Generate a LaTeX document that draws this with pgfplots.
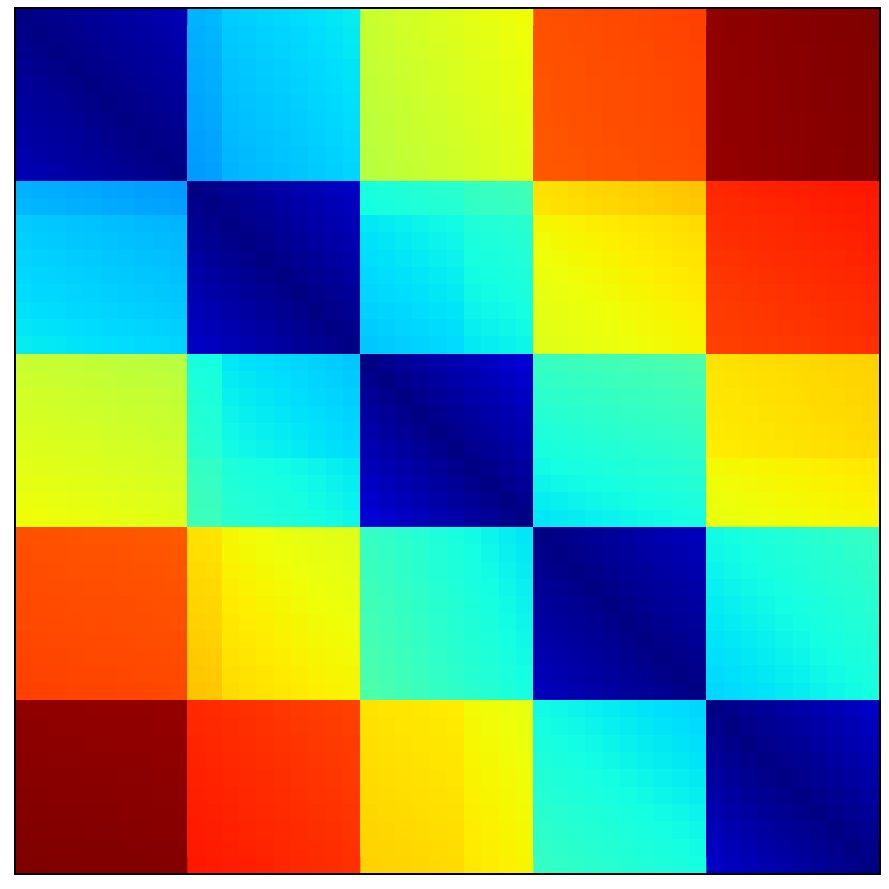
\documentclass[border=0pt]{standalone}
\usepackage{pgfplots}
\usepackage{pgfplotstable}
\pgfplotsset{compat=1.18}
\pgfplotsset{colormap={mpljet}{rgb(0pt)=(0,0,0.5); rgb(110pt)=(0,0,1); rgb(125pt)=(0,0,1); rgb(340pt)=(0,0.86,1); rgb(350pt)=(0,0.9,0.9677); rgb(375pt)=(0.0806,1,0.8871); rgb(640pt)=(0.9355,1,0.0323); rgb(650pt)=(0.9677,0.963,0); rgb(660pt)=(1,0.9259,0); rgb(890pt)=(1,0.0741,0); rgb(910pt)=(0.9091,0,0); rgb(1000pt)=(0.5,0,0)}}
% 50 x 50 distance matrix (values x 1000), one value per table row, row by row
\pgfplotstableread[row sep=\\]{
c\\
3\\ 7\\ 12\\ 16\\ 21\\ 25\\ 29\\ 34\\ 38\\ 43\\ 300\\ 305\\ 325\\ 329\\ 333\\ 337\\ 341\\ 346\\ 351\\ 357\\ 593\\ 598\\ 604\\ 609\\ 614\\ 620\\ 625\\ 630\\ 636\\ 641\\ 825\\ 827\\ 829\\ 831\\ 833\\ 834\\ 836\\ 838\\ 840\\ 842\\ 986\\ 988\\ 989\\ 991\\ 993\\ 994\\ 996\\ 997\\ 999\\ 1000\\
7\\ 3\\ 7\\ 12\\ 16\\ 21\\ 25\\ 29\\ 34\\ 38\\ 297\\ 302\\ 322\\ 326\\ 330\\ 334\\ 338\\ 343\\ 348\\ 354\\ 591\\ 596\\ 602\\ 607\\ 612\\ 618\\ 623\\ 628\\ 634\\ 639\\ 824\\ 826\\ 828\\ 830\\ 832\\ 833\\ 835\\ 837\\ 839\\ 841\\ 986\\ 988\\ 989\\ 991\\ 993\\ 994\\ 996\\ 997\\ 999\\ 1000\\
12\\ 7\\ 3\\ 7\\ 12\\ 16\\ 21\\ 25\\ 29\\ 34\\ 295\\ 300\\ 320\\ 324\\ 328\\ 332\\ 336\\ 341\\ 346\\ 352\\ 589\\ 594\\ 600\\ 605\\ 610\\ 616\\ 621\\ 626\\ 632\\ 637\\ 823\\ 825\\ 827\\ 829\\ 831\\ 832\\ 834\\ 836\\ 838\\ 840\\ 985\\ 987\\ 988\\ 990\\ 992\\ 993\\ 995\\ 996\\ 998\\ 999\\
16\\ 12\\ 7\\ 3\\ 7\\ 12\\ 16\\ 21\\ 25\\ 29\\ 292\\ 297\\ 317\\ 321\\ 325\\ 329\\ 333\\ 338\\ 343\\ 349\\ 587\\ 592\\ 598\\ 603\\ 608\\ 614\\ 619\\ 624\\ 630\\ 635\\ 822\\ 824\\ 826\\ 828\\ 830\\ 831\\ 833\\ 835\\ 837\\ 839\\ 985\\ 987\\ 988\\ 990\\ 992\\ 993\\ 995\\ 996\\ 998\\ 999\\
21\\ 16\\ 12\\ 7\\ 3\\ 7\\ 12\\ 16\\ 21\\ 25\\ 290\\ 295\\ 315\\ 319\\ 323\\ 327\\ 331\\ 336\\ 341\\ 347\\ 585\\ 590\\ 596\\ 601\\ 606\\ 612\\ 617\\ 622\\ 628\\ 633\\ 821\\ 823\\ 825\\ 827\\ 829\\ 830\\ 832\\ 834\\ 836\\ 838\\ 984\\ 986\\ 987\\ 989\\ 991\\ 992\\ 994\\ 995\\ 997\\ 998\\
25\\ 21\\ 16\\ 12\\ 7\\ 3\\ 7\\ 12\\ 16\\ 21\\ 287\\ 292\\ 312\\ 316\\ 320\\ 324\\ 328\\ 333\\ 338\\ 344\\ 582\\ 587\\ 593\\ 598\\ 603\\ 609\\ 614\\ 619\\ 625\\ 630\\ 821\\ 823\\ 825\\ 827\\ 829\\ 830\\ 832\\ 834\\ 836\\ 838\\ 984\\ 986\\ 987\\ 989\\ 991\\ 992\\ 994\\ 995\\ 997\\ 998\\
29\\ 25\\ 21\\ 16\\ 12\\ 7\\ 3\\ 7\\ 12\\ 16\\ 285\\ 290\\ 310\\ 314\\ 318\\ 322\\ 326\\ 331\\ 336\\ 342\\ 580\\ 585\\ 591\\ 596\\ 601\\ 607\\ 612\\ 617\\ 623\\ 628\\ 820\\ 822\\ 824\\ 826\\ 828\\ 829\\ 831\\ 833\\ 835\\ 837\\ 983\\ 985\\ 986\\ 988\\ 990\\ 991\\ 993\\ 994\\ 996\\ 997\\
34\\ 29\\ 25\\ 21\\ 16\\ 12\\ 7\\ 3\\ 7\\ 12\\ 282\\ 287\\ 307\\ 311\\ 315\\ 319\\ 323\\ 328\\ 333\\ 339\\ 578\\ 583\\ 589\\ 594\\ 599\\ 605\\ 610\\ 615\\ 621\\ 626\\ 819\\ 821\\ 823\\ 825\\ 827\\ 828\\ 830\\ 832\\ 834\\ 836\\ 983\\ 985\\ 986\\ 988\\ 990\\ 991\\ 993\\ 994\\ 996\\ 997\\
38\\ 34\\ 29\\ 25\\ 21\\ 16\\ 12\\ 7\\ 3\\ 7\\ 280\\ 285\\ 305\\ 309\\ 313\\ 317\\ 321\\ 326\\ 331\\ 337\\ 576\\ 581\\ 587\\ 592\\ 597\\ 603\\ 608\\ 613\\ 619\\ 624\\ 818\\ 820\\ 822\\ 824\\ 826\\ 827\\ 829\\ 831\\ 833\\ 835\\ 982\\ 984\\ 985\\ 987\\ 989\\ 990\\ 992\\ 993\\ 995\\ 996\\
43\\ 38\\ 34\\ 29\\ 25\\ 21\\ 16\\ 12\\ 7\\ 3\\ 277\\ 282\\ 302\\ 306\\ 310\\ 314\\ 318\\ 323\\ 328\\ 334\\ 574\\ 579\\ 585\\ 590\\ 595\\ 601\\ 606\\ 611\\ 617\\ 622\\ 817\\ 819\\ 821\\ 823\\ 825\\ 826\\ 828\\ 830\\ 832\\ 834\\ 982\\ 984\\ 985\\ 987\\ 989\\ 990\\ 992\\ 993\\ 995\\ 996\\
300\\ 297\\ 295\\ 292\\ 290\\ 287\\ 285\\ 282\\ 280\\ 277\\ 3\\ 9\\ 15\\ 22\\ 28\\ 34\\ 40\\ 46\\ 53\\ 59\\ 379\\ 383\\ 387\\ 391\\ 395\\ 399\\ 413\\ 417\\ 421\\ 425\\ 672\\ 675\\ 679\\ 682\\ 685\\ 689\\ 692\\ 695\\ 699\\ 702\\ 868\\ 870\\ 872\\ 874\\ 876\\ 878\\ 880\\ 882\\ 884\\ 886\\
305\\ 302\\ 300\\ 297\\ 295\\ 292\\ 290\\ 287\\ 285\\ 282\\ 9\\ 3\\ 9\\ 15\\ 22\\ 28\\ 34\\ 40\\ 46\\ 53\\ 376\\ 380\\ 384\\ 388\\ 392\\ 396\\ 410\\ 414\\ 418\\ 422\\ 669\\ 672\\ 676\\ 679\\ 682\\ 686\\ 689\\ 692\\ 696\\ 699\\ 865\\ 867\\ 869\\ 871\\ 873\\ 875\\ 877\\ 879\\ 881\\ 883\\
325\\ 322\\ 320\\ 317\\ 315\\ 312\\ 310\\ 307\\ 305\\ 302\\ 15\\ 9\\ 3\\ 9\\ 15\\ 22\\ 28\\ 34\\ 40\\ 46\\ 352\\ 356\\ 360\\ 364\\ 368\\ 372\\ 386\\ 390\\ 394\\ 398\\ 648\\ 651\\ 655\\ 658\\ 661\\ 665\\ 668\\ 671\\ 675\\ 678\\ 862\\ 864\\ 866\\ 868\\ 870\\ 872\\ 874\\ 876\\ 878\\ 880\\
329\\ 326\\ 324\\ 321\\ 319\\ 316\\ 314\\ 311\\ 309\\ 306\\ 22\\ 15\\ 9\\ 3\\ 9\\ 15\\ 22\\ 28\\ 34\\ 40\\ 347\\ 351\\ 355\\ 359\\ 363\\ 367\\ 381\\ 385\\ 389\\ 393\\ 643\\ 646\\ 650\\ 653\\ 656\\ 660\\ 663\\ 666\\ 670\\ 673\\ 859\\ 861\\ 863\\ 865\\ 867\\ 869\\ 871\\ 873\\ 875\\ 877\\
333\\ 330\\ 328\\ 325\\ 323\\ 320\\ 318\\ 315\\ 313\\ 310\\ 28\\ 22\\ 15\\ 9\\ 3\\ 9\\ 15\\ 22\\ 28\\ 34\\ 343\\ 347\\ 351\\ 355\\ 359\\ 363\\ 377\\ 381\\ 385\\ 389\\ 639\\ 642\\ 646\\ 649\\ 652\\ 656\\ 659\\ 662\\ 666\\ 669\\ 856\\ 858\\ 860\\ 862\\ 864\\ 866\\ 868\\ 870\\ 872\\ 874\\
337\\ 334\\ 332\\ 329\\ 327\\ 324\\ 322\\ 319\\ 317\\ 314\\ 34\\ 28\\ 22\\ 15\\ 9\\ 3\\ 9\\ 15\\ 22\\ 28\\ 339\\ 343\\ 347\\ 351\\ 355\\ 359\\ 373\\ 377\\ 381\\ 385\\ 635\\ 638\\ 642\\ 645\\ 648\\ 652\\ 655\\ 658\\ 662\\ 665\\ 853\\ 855\\ 857\\ 859\\ 861\\ 863\\ 865\\ 867\\ 869\\ 871\\
341\\ 338\\ 336\\ 333\\ 331\\ 328\\ 326\\ 323\\ 321\\ 318\\ 40\\ 34\\ 28\\ 22\\ 15\\ 9\\ 3\\ 9\\ 15\\ 22\\ 335\\ 339\\ 343\\ 347\\ 351\\ 355\\ 369\\ 373\\ 377\\ 381\\ 631\\ 634\\ 638\\ 641\\ 644\\ 648\\ 651\\ 654\\ 658\\ 661\\ 850\\ 852\\ 854\\ 856\\ 858\\ 860\\ 862\\ 864\\ 866\\ 868\\
346\\ 343\\ 341\\ 338\\ 336\\ 333\\ 331\\ 328\\ 326\\ 323\\ 46\\ 40\\ 34\\ 28\\ 22\\ 15\\ 9\\ 3\\ 9\\ 15\\ 330\\ 334\\ 338\\ 342\\ 346\\ 350\\ 364\\ 368\\ 372\\ 376\\ 627\\ 630\\ 634\\ 637\\ 640\\ 644\\ 647\\ 650\\ 654\\ 657\\ 847\\ 849\\ 851\\ 853\\ 855\\ 857\\ 859\\ 861\\ 863\\ 865\\
351\\ 348\\ 346\\ 343\\ 341\\ 338\\ 336\\ 333\\ 331\\ 328\\ 53\\ 46\\ 40\\ 34\\ 28\\ 22\\ 15\\ 9\\ 3\\ 9\\ 325\\ 329\\ 333\\ 337\\ 341\\ 345\\ 359\\ 363\\ 367\\ 371\\ 624\\ 627\\ 631\\ 634\\ 637\\ 641\\ 644\\ 647\\ 651\\ 654\\ 845\\ 847\\ 849\\ 851\\ 853\\ 855\\ 857\\ 859\\ 861\\ 863\\
357\\ 354\\ 352\\ 349\\ 347\\ 344\\ 342\\ 339\\ 337\\ 334\\ 59\\ 53\\ 46\\ 40\\ 34\\ 28\\ 22\\ 15\\ 9\\ 3\\ 320\\ 324\\ 328\\ 332\\ 336\\ 340\\ 354\\ 358\\ 362\\ 366\\ 621\\ 624\\ 628\\ 631\\ 634\\ 638\\ 641\\ 644\\ 648\\ 651\\ 842\\ 844\\ 846\\ 848\\ 850\\ 852\\ 854\\ 856\\ 858\\ 860\\
593\\ 591\\ 589\\ 587\\ 585\\ 582\\ 580\\ 578\\ 576\\ 574\\ 379\\ 376\\ 352\\ 347\\ 343\\ 339\\ 335\\ 330\\ 325\\ 320\\ 3\\ 11\\ 19\\ 27\\ 35\\ 43\\ 50\\ 58\\ 66\\ 74\\ 415\\ 418\\ 421\\ 424\\ 427\\ 430\\ 433\\ 436\\ 439\\ 442\\ 670\\ 672\\ 674\\ 676\\ 678\\ 680\\ 682\\ 684\\ 686\\ 688\\
598\\ 596\\ 594\\ 592\\ 590\\ 587\\ 585\\ 583\\ 581\\ 579\\ 383\\ 380\\ 356\\ 351\\ 347\\ 343\\ 339\\ 334\\ 329\\ 324\\ 11\\ 3\\ 11\\ 19\\ 27\\ 35\\ 43\\ 50\\ 58\\ 66\\ 408\\ 411\\ 414\\ 417\\ 420\\ 423\\ 426\\ 429\\ 432\\ 435\\ 668\\ 670\\ 672\\ 674\\ 676\\ 678\\ 680\\ 682\\ 684\\ 686\\
604\\ 602\\ 600\\ 598\\ 596\\ 593\\ 591\\ 589\\ 587\\ 585\\ 387\\ 384\\ 360\\ 355\\ 351\\ 347\\ 343\\ 338\\ 333\\ 328\\ 19\\ 11\\ 3\\ 11\\ 19\\ 27\\ 35\\ 43\\ 50\\ 58\\ 401\\ 404\\ 407\\ 410\\ 413\\ 416\\ 419\\ 422\\ 425\\ 428\\ 666\\ 668\\ 670\\ 672\\ 674\\ 676\\ 678\\ 680\\ 682\\ 684\\
609\\ 607\\ 605\\ 603\\ 601\\ 598\\ 596\\ 594\\ 592\\ 590\\ 391\\ 388\\ 364\\ 359\\ 355\\ 351\\ 347\\ 342\\ 337\\ 332\\ 27\\ 19\\ 11\\ 3\\ 11\\ 19\\ 27\\ 35\\ 43\\ 50\\ 394\\ 397\\ 400\\ 403\\ 406\\ 409\\ 412\\ 415\\ 418\\ 421\\ 664\\ 666\\ 668\\ 670\\ 672\\ 674\\ 676\\ 678\\ 680\\ 682\\
614\\ 612\\ 610\\ 608\\ 606\\ 603\\ 601\\ 599\\ 597\\ 595\\ 395\\ 392\\ 368\\ 363\\ 359\\ 355\\ 351\\ 346\\ 341\\ 336\\ 35\\ 27\\ 19\\ 11\\ 3\\ 11\\ 19\\ 27\\ 35\\ 43\\ 386\\ 389\\ 392\\ 395\\ 398\\ 401\\ 404\\ 407\\ 410\\ 413\\ 662\\ 664\\ 666\\ 668\\ 670\\ 672\\ 674\\ 676\\ 678\\ 680\\
620\\ 618\\ 616\\ 614\\ 612\\ 609\\ 607\\ 605\\ 603\\ 601\\ 399\\ 396\\ 372\\ 367\\ 363\\ 359\\ 355\\ 350\\ 345\\ 340\\ 43\\ 35\\ 27\\ 19\\ 11\\ 3\\ 11\\ 19\\ 27\\ 35\\ 379\\ 382\\ 385\\ 388\\ 391\\ 394\\ 397\\ 400\\ 403\\ 406\\ 660\\ 662\\ 664\\ 666\\ 668\\ 670\\ 672\\ 674\\ 676\\ 678\\
625\\ 623\\ 621\\ 619\\ 617\\ 614\\ 612\\ 610\\ 608\\ 606\\ 413\\ 410\\ 386\\ 381\\ 377\\ 373\\ 369\\ 364\\ 359\\ 354\\ 50\\ 43\\ 35\\ 27\\ 19\\ 11\\ 3\\ 11\\ 19\\ 27\\ 372\\ 375\\ 378\\ 381\\ 384\\ 387\\ 390\\ 393\\ 396\\ 399\\ 645\\ 647\\ 649\\ 651\\ 653\\ 655\\ 657\\ 659\\ 661\\ 663\\
630\\ 628\\ 626\\ 624\\ 622\\ 619\\ 617\\ 615\\ 613\\ 611\\ 417\\ 414\\ 390\\ 385\\ 381\\ 377\\ 373\\ 368\\ 363\\ 358\\ 58\\ 50\\ 43\\ 35\\ 27\\ 19\\ 11\\ 3\\ 11\\ 19\\ 365\\ 368\\ 371\\ 374\\ 377\\ 380\\ 383\\ 386\\ 389\\ 392\\ 641\\ 643\\ 645\\ 647\\ 649\\ 651\\ 653\\ 655\\ 657\\ 659\\
636\\ 634\\ 632\\ 630\\ 628\\ 625\\ 623\\ 621\\ 619\\ 617\\ 421\\ 418\\ 394\\ 389\\ 385\\ 381\\ 377\\ 372\\ 367\\ 362\\ 66\\ 58\\ 50\\ 43\\ 35\\ 27\\ 19\\ 11\\ 3\\ 11\\ 358\\ 361\\ 364\\ 367\\ 370\\ 373\\ 376\\ 379\\ 382\\ 385\\ 637\\ 639\\ 641\\ 643\\ 645\\ 647\\ 649\\ 651\\ 653\\ 655\\
641\\ 639\\ 637\\ 635\\ 633\\ 630\\ 628\\ 626\\ 624\\ 622\\ 425\\ 422\\ 398\\ 393\\ 389\\ 385\\ 381\\ 376\\ 371\\ 366\\ 74\\ 66\\ 58\\ 50\\ 43\\ 35\\ 27\\ 19\\ 11\\ 3\\ 351\\ 354\\ 357\\ 360\\ 363\\ 366\\ 369\\ 372\\ 375\\ 378\\ 633\\ 635\\ 637\\ 639\\ 641\\ 643\\ 645\\ 647\\ 649\\ 651\\
825\\ 824\\ 823\\ 822\\ 821\\ 821\\ 820\\ 819\\ 818\\ 817\\ 672\\ 669\\ 648\\ 643\\ 639\\ 635\\ 631\\ 627\\ 624\\ 621\\ 415\\ 408\\ 401\\ 394\\ 386\\ 379\\ 372\\ 365\\ 358\\ 351\\ 3\\ 8\\ 14\\ 19\\ 24\\ 30\\ 35\\ 40\\ 45\\ 51\\ 372\\ 376\\ 381\\ 385\\ 390\\ 394\\ 399\\ 403\\ 408\\ 412\\
827\\ 826\\ 825\\ 824\\ 823\\ 823\\ 822\\ 821\\ 820\\ 819\\ 675\\ 672\\ 651\\ 646\\ 642\\ 638\\ 634\\ 630\\ 627\\ 624\\ 418\\ 411\\ 404\\ 397\\ 389\\ 382\\ 375\\ 368\\ 361\\ 354\\ 8\\ 3\\ 8\\ 14\\ 19\\ 24\\ 30\\ 35\\ 40\\ 45\\ 368\\ 372\\ 377\\ 381\\ 386\\ 390\\ 395\\ 399\\ 404\\ 408\\
829\\ 828\\ 827\\ 826\\ 825\\ 825\\ 824\\ 823\\ 822\\ 821\\ 679\\ 676\\ 655\\ 650\\ 646\\ 642\\ 638\\ 634\\ 631\\ 628\\ 421\\ 414\\ 407\\ 400\\ 392\\ 385\\ 378\\ 371\\ 364\\ 357\\ 14\\ 8\\ 3\\ 8\\ 14\\ 19\\ 24\\ 30\\ 35\\ 40\\ 364\\ 368\\ 373\\ 377\\ 382\\ 386\\ 391\\ 395\\ 400\\ 404\\
831\\ 830\\ 829\\ 828\\ 827\\ 827\\ 826\\ 825\\ 824\\ 823\\ 682\\ 679\\ 658\\ 653\\ 649\\ 645\\ 641\\ 637\\ 634\\ 631\\ 424\\ 417\\ 410\\ 403\\ 395\\ 388\\ 381\\ 374\\ 367\\ 360\\ 19\\ 14\\ 8\\ 3\\ 8\\ 14\\ 19\\ 24\\ 30\\ 35\\ 360\\ 364\\ 369\\ 373\\ 378\\ 382\\ 387\\ 391\\ 396\\ 400\\
833\\ 832\\ 831\\ 830\\ 829\\ 829\\ 828\\ 827\\ 826\\ 825\\ 685\\ 682\\ 661\\ 656\\ 652\\ 648\\ 644\\ 640\\ 637\\ 634\\ 427\\ 420\\ 413\\ 406\\ 398\\ 391\\ 384\\ 377\\ 370\\ 363\\ 24\\ 19\\ 14\\ 8\\ 3\\ 8\\ 14\\ 19\\ 24\\ 30\\ 356\\ 360\\ 365\\ 369\\ 374\\ 378\\ 383\\ 387\\ 392\\ 396\\
834\\ 833\\ 832\\ 831\\ 830\\ 830\\ 829\\ 828\\ 827\\ 826\\ 689\\ 686\\ 665\\ 660\\ 656\\ 652\\ 648\\ 644\\ 641\\ 638\\ 430\\ 423\\ 416\\ 409\\ 401\\ 394\\ 387\\ 380\\ 373\\ 366\\ 30\\ 24\\ 19\\ 14\\ 8\\ 3\\ 8\\ 14\\ 19\\ 24\\ 352\\ 356\\ 361\\ 365\\ 370\\ 374\\ 379\\ 383\\ 388\\ 392\\
836\\ 835\\ 834\\ 833\\ 832\\ 832\\ 831\\ 830\\ 829\\ 828\\ 692\\ 689\\ 668\\ 663\\ 659\\ 655\\ 651\\ 647\\ 644\\ 641\\ 433\\ 426\\ 419\\ 412\\ 404\\ 397\\ 390\\ 383\\ 376\\ 369\\ 35\\ 30\\ 24\\ 19\\ 14\\ 8\\ 3\\ 8\\ 14\\ 19\\ 348\\ 352\\ 357\\ 361\\ 366\\ 370\\ 375\\ 379\\ 384\\ 388\\
838\\ 837\\ 836\\ 835\\ 834\\ 834\\ 833\\ 832\\ 831\\ 830\\ 695\\ 692\\ 671\\ 666\\ 662\\ 658\\ 654\\ 650\\ 647\\ 644\\ 436\\ 429\\ 422\\ 415\\ 407\\ 400\\ 393\\ 386\\ 379\\ 372\\ 40\\ 35\\ 30\\ 24\\ 19\\ 14\\ 8\\ 3\\ 8\\ 14\\ 344\\ 348\\ 353\\ 357\\ 362\\ 366\\ 371\\ 375\\ 380\\ 384\\
840\\ 839\\ 838\\ 837\\ 836\\ 836\\ 835\\ 834\\ 833\\ 832\\ 699\\ 696\\ 675\\ 670\\ 666\\ 662\\ 658\\ 654\\ 651\\ 648\\ 439\\ 432\\ 425\\ 418\\ 410\\ 403\\ 396\\ 389\\ 382\\ 375\\ 45\\ 40\\ 35\\ 30\\ 24\\ 19\\ 14\\ 8\\ 3\\ 8\\ 340\\ 344\\ 349\\ 353\\ 358\\ 362\\ 367\\ 371\\ 376\\ 380\\
842\\ 841\\ 840\\ 839\\ 838\\ 838\\ 837\\ 836\\ 835\\ 834\\ 702\\ 699\\ 678\\ 673\\ 669\\ 665\\ 661\\ 657\\ 654\\ 651\\ 442\\ 435\\ 428\\ 421\\ 413\\ 406\\ 399\\ 392\\ 385\\ 378\\ 51\\ 45\\ 40\\ 35\\ 30\\ 24\\ 19\\ 14\\ 8\\ 3\\ 336\\ 340\\ 345\\ 349\\ 354\\ 358\\ 363\\ 367\\ 372\\ 376\\
986\\ 986\\ 985\\ 985\\ 984\\ 984\\ 983\\ 983\\ 982\\ 982\\ 868\\ 865\\ 862\\ 859\\ 856\\ 853\\ 850\\ 847\\ 845\\ 842\\ 670\\ 668\\ 666\\ 664\\ 662\\ 660\\ 645\\ 641\\ 637\\ 633\\ 372\\ 368\\ 364\\ 360\\ 356\\ 352\\ 348\\ 344\\ 340\\ 336\\ 3\\ 9\\ 15\\ 22\\ 28\\ 34\\ 40\\ 46\\ 53\\ 59\\
988\\ 988\\ 987\\ 987\\ 986\\ 986\\ 985\\ 985\\ 984\\ 984\\ 870\\ 867\\ 864\\ 861\\ 858\\ 855\\ 852\\ 849\\ 847\\ 844\\ 672\\ 670\\ 668\\ 666\\ 664\\ 662\\ 647\\ 643\\ 639\\ 635\\ 376\\ 372\\ 368\\ 364\\ 360\\ 356\\ 352\\ 348\\ 344\\ 340\\ 9\\ 3\\ 9\\ 15\\ 22\\ 28\\ 34\\ 40\\ 46\\ 53\\
989\\ 989\\ 988\\ 988\\ 987\\ 987\\ 986\\ 986\\ 985\\ 985\\ 872\\ 869\\ 866\\ 863\\ 860\\ 857\\ 854\\ 851\\ 849\\ 846\\ 674\\ 672\\ 670\\ 668\\ 666\\ 664\\ 649\\ 645\\ 641\\ 637\\ 381\\ 377\\ 373\\ 369\\ 365\\ 361\\ 357\\ 353\\ 349\\ 345\\ 15\\ 9\\ 3\\ 9\\ 15\\ 22\\ 28\\ 34\\ 40\\ 46\\
991\\ 991\\ 990\\ 990\\ 989\\ 989\\ 988\\ 988\\ 987\\ 987\\ 874\\ 871\\ 868\\ 865\\ 862\\ 859\\ 856\\ 853\\ 851\\ 848\\ 676\\ 674\\ 672\\ 670\\ 668\\ 666\\ 651\\ 647\\ 643\\ 639\\ 385\\ 381\\ 377\\ 373\\ 369\\ 365\\ 361\\ 357\\ 353\\ 349\\ 22\\ 15\\ 9\\ 3\\ 9\\ 15\\ 22\\ 28\\ 34\\ 40\\
993\\ 993\\ 992\\ 992\\ 991\\ 991\\ 990\\ 990\\ 989\\ 989\\ 876\\ 873\\ 870\\ 867\\ 864\\ 861\\ 858\\ 855\\ 853\\ 850\\ 678\\ 676\\ 674\\ 672\\ 670\\ 668\\ 653\\ 649\\ 645\\ 641\\ 390\\ 386\\ 382\\ 378\\ 374\\ 370\\ 366\\ 362\\ 358\\ 354\\ 28\\ 22\\ 15\\ 9\\ 3\\ 9\\ 15\\ 22\\ 28\\ 34\\
994\\ 994\\ 993\\ 993\\ 992\\ 992\\ 991\\ 991\\ 990\\ 990\\ 878\\ 875\\ 872\\ 869\\ 866\\ 863\\ 860\\ 857\\ 855\\ 852\\ 680\\ 678\\ 676\\ 674\\ 672\\ 670\\ 655\\ 651\\ 647\\ 643\\ 394\\ 390\\ 386\\ 382\\ 378\\ 374\\ 370\\ 366\\ 362\\ 358\\ 34\\ 28\\ 22\\ 15\\ 9\\ 3\\ 9\\ 15\\ 22\\ 28\\
996\\ 996\\ 995\\ 995\\ 994\\ 994\\ 993\\ 993\\ 992\\ 992\\ 880\\ 877\\ 874\\ 871\\ 868\\ 865\\ 862\\ 859\\ 857\\ 854\\ 682\\ 680\\ 678\\ 676\\ 674\\ 672\\ 657\\ 653\\ 649\\ 645\\ 399\\ 395\\ 391\\ 387\\ 383\\ 379\\ 375\\ 371\\ 367\\ 363\\ 40\\ 34\\ 28\\ 22\\ 15\\ 9\\ 3\\ 9\\ 15\\ 22\\
997\\ 997\\ 996\\ 996\\ 995\\ 995\\ 994\\ 994\\ 993\\ 993\\ 882\\ 879\\ 876\\ 873\\ 870\\ 867\\ 864\\ 861\\ 859\\ 856\\ 684\\ 682\\ 680\\ 678\\ 676\\ 674\\ 659\\ 655\\ 651\\ 647\\ 403\\ 399\\ 395\\ 391\\ 387\\ 383\\ 379\\ 375\\ 371\\ 367\\ 46\\ 40\\ 34\\ 28\\ 22\\ 15\\ 9\\ 3\\ 9\\ 15\\
999\\ 999\\ 998\\ 998\\ 997\\ 997\\ 996\\ 996\\ 995\\ 995\\ 884\\ 881\\ 878\\ 875\\ 872\\ 869\\ 866\\ 863\\ 861\\ 858\\ 686\\ 684\\ 682\\ 680\\ 678\\ 676\\ 661\\ 657\\ 653\\ 649\\ 408\\ 404\\ 400\\ 396\\ 392\\ 388\\ 384\\ 380\\ 376\\ 372\\ 53\\ 46\\ 40\\ 34\\ 28\\ 22\\ 15\\ 9\\ 3\\ 9\\
1000\\ 1000\\ 999\\ 999\\ 998\\ 998\\ 997\\ 997\\ 996\\ 996\\ 886\\ 883\\ 880\\ 877\\ 874\\ 871\\ 868\\ 865\\ 863\\ 860\\ 688\\ 686\\ 684\\ 682\\ 680\\ 678\\ 663\\ 659\\ 655\\ 651\\ 412\\ 408\\ 404\\ 400\\ 396\\ 392\\ 388\\ 384\\ 380\\ 376\\ 59\\ 53\\ 46\\ 40\\ 34\\ 28\\ 22\\ 15\\ 9\\ 3\\
}\distmat
\begin{document}
\begin{tikzpicture}
\begin{axis}[
  scale only axis,
  width=8.65cm, height=8.66cm,
  xmin=-0.5, xmax=49.5, ymin=-0.5, ymax=49.5,
  y dir=reverse,
  xtick=\empty, ytick=\empty,
  colormap name=mpljet,
  point meta min=0, point meta max=1000,
  axis on top,
  axis line style={black, line width=0.45pt},
]
\addplot[matrix plot*, shader=flat corner, mesh/cols=50, point meta=explicit]
  table[x index=0, y index=0, meta index=0,
        x expr={\coordindex-50*floor((\coordindex+0.5)/50)},
        y expr={floor((\coordindex+0.5)/50)}] {\distmat};
\end{axis}
\path[use as bounding box] ([shift={(-0.15cm,-0.15cm)}]current axis.south west) rectangle ([shift={(0.09cm,0.08cm)}]current axis.north east);
\end{tikzpicture}
\end{document}
